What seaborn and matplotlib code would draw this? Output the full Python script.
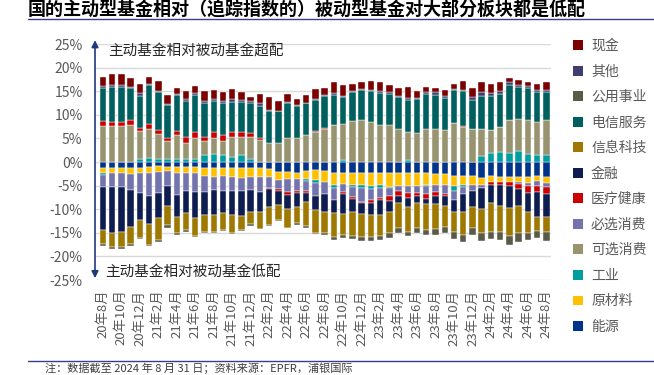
import numpy as np
import pandas as pd
import matplotlib
matplotlib.use("Agg")
import matplotlib.pyplot as plt
from matplotlib.patches import Patch
from matplotlib.lines import Line2D
import seaborn as sns

# monthly categories 2020-08 .. 2024-08
months = [f"{d.year % 100}年{d.month}月" for d in pd.date_range("2020-08-01", "2024-08-01", freq="MS")]

# active minus passive weight (%)
energy = [-1.3, -1.3, -1.3, -1.3, -1.3, -1.0, -0.9, -1.0, -1.0, -1.1,
          -1.1, -1.3, -1.3, -1.3, -1.3, -1.2, -1.3, -1.3, -1.4, -2.1,
          -2.1, -2.3, -1.9, -1.6, -1.9, -2.4, -2.4, -2.3, -2.4, -2.3,
          -2.3, -2.4, -2.4, -2.4, -2.4, -2.4, -2.6, -2.6, -3.0, -3.0,
          -2.9, -3.4, -3.0, -3.1, -3.1, -3.1, -3.1, -2.9, -3.1]
materials = [-1.0, -1.0, -1.0, -1.3, -1.1, -1.4, -1.2, -0.9, -1.4, -1.2,
             -1.2, -1.7, -1.8, -1.7, -1.9, -2.2, -1.9, -1.9, -1.7, -1.8,
             -1.4, -1.4, -1.8, -2.3, -2.3, -2.4, -2.2, -2.5, -2.4, -2.8,
             -2.6, -2.9, -2.6, -2.6, -2.6, -2.5, -2.2, -2.2, -2.1, -1.8,
             -1.9, -1.5, -1.3, -1.2, -1.2, -1.2, -1.3, -1.2, -1.3]
industrials = [-0.4, 0, 0, 0, 0.6, 0.9, 0.7, 0.6, 0.6, 0.6,
               0.6, 1.4, 1.6, 1.4, 1.0, 1.4, 0.7, 0, 0, 0,
               0, 0, -0.3, -0.5, 0, -0.8, 0.4, -0.5, -0.8, -0.6,
               -0.6, -0.2, 0, 0.5, 0, -0.2, 0, 0, -1.1, -0.6,
               0, 1.3, 1.9, 2.1, 2.0, 2.4, 1.8, 1.4, 1.4]
cons_disc = [7.7, 7.7, 7.7, 7.9, 6.0, 6.1, 5.2, 3.8, 5.1, 3.5,
             4.4, 3.1, 3.5, 3.1, 4.2, 4.0, 4.7, 4.7, 4.0, 4.1,
             5.0, 5.1, 5.8, 6.4, 6.9, 7.9, 7.7, 8.6, 9.0, 8.4,
             7.9, 7.9, 7.0, 5.9, 6.1, 6.9, 7.0, 6.8, 8.2, 7.4,
             6.9, 5.7, 4.9, 5.4, 7.0, 6.7, 7.0, 7.0, 7.4]
staples = [-2.6, -3.0, -3.1, -3.3, -4.2, -4.9, -4.5, -3.2, -4.5, -3.9,
           -4.1, -3.4, -2.9, -3.2, -3.0, -2.8, -2.7, -3.2, -2.4, -1.8,
           -2.9, -2.5, -2.2, -2.9, -2.6, -2.4, -1.8, -2.2, -2.8, -2.4,
           -2.1, -1.6, -1.2, -1.6, -1.6, -1.7, -1.6, -2.0, -1.8, -1.4,
           -1.3, -0.6, 0, 0, 0, -0.3, -0.7, -1.0, -1.0]
health = [0.9, 0.7, 0.7, 0.9, 0.5, 1.0, 0.9, 0.6, 0.9, 1.3,
          1.3, 0.9, 1.2, 1.3, 1.1, 1.0, 0.7, 0.4, -0.2, -0.5,
          -0.6, -0.4, -0.4, 0.2, 0.3, 0, -0.3, -0.4, -0.3, -0.6,
          -0.4, -1.1, -0.9, -1.0, -0.7, -1.0, -0.9, -0.3, 0, 0.3,
          0, 0, -0.5, -0.5, -0.8, -1.1, -1.5, -1.3, -1.3]
financials = [-9.1, -9.7, -9.5, -7.8, -5.7, -5.8, -5.3, -4.2, -4.7, -4.5,
              -5.5, -4.8, -5.2, -4.5, -5.0, -5.2, -4.6, -4.1, -3.9, -2.9,
              -2.9, -3.0, -1.9, -2.8, -3.7, -2.9, -4.3, -2.6, -2.3, -2.6,
              -3.2, -2.4, -1.6, -2.0, -1.4, -1.1, -1.6, -2.2, -2.5, -3.8,
              -3.5, -4.4, -3.9, -4.5, -4.7, -3.6, -4.0, -5.2, -4.9]
info_tech = [-2.9, -3.0, -3.1, -3.6, -3.9, -4.5, -4.7, -4.1, -3.5, -3.7,
             -3.7, -3.6, -3.6, -3.7, -3.8, -3.0, -2.6, -3.6, -3.8, -3.2,
             -4.0, -3.4, -5.0, -4.9, -4.5, -5.0, -4.5, -5.1, -4.9, -4.6,
             -4.5, -4.4, -5.2, -5.2, -5.3, -5.5, -5.2, -4.4, -4.4, -4.9,
             -4.3, -5.2, -6.1, -5.6, -5.8, -5.7, -4.5, -3.0, -3.2]
telecom = [7.0, 7.5, 7.5, 6.9, 6.9, 8.3, 8.1, 7.1, 7.5, 7.5,
           8.0, 7.1, 6.6, 6.6, 6.4, 6.3, 6.4, 6.8, 6.8, 6.6,
           7.5, 6.8, 6.6, 6.5, 6.8, 6.4, 5.7, 6.3, 6.2, 6.6,
           6.8, 6.6, 6.8, 6.7, 7.2, 7.5, 7.3, 6.8, 7.0, 7.3,
           6.2, 7.0, 7.1, 7.0, 7.3, 6.8, 6.8, 6.5, 6.1]
utilities = [-0.4, -0.4, -0.4, -0.4, -0.1, -0.3, -0.4, -0.5, -0.4, -0.4,
             -0.3, -0.2, -0.2, -0.3, -0.3, -0.3, -0.4, -0.1, -0.1, -0.2,
             -0.1, -0.4, -0.4, -0.3, -0.4, -0.7, -0.5, -0.7, -0.8, -0.8,
             -0.9, -1.0, -1.2, -0.9, -1.0, -1.1, -1.3, -1.3, -1.5, -1.4,
             -1.5, -1.6, -1.6, -1.7, -2.0, -1.9, -1.5, -1.5, -2.0]
other = [0.4, 0.5, 0.5, 0.2, 0.6, 0.2, 0.2, 0.2, 0.3, 0.4,
         0.3, 0.4, 0.5, 0.6, 0.6, 0.4, 0.4, 0.5, 0.3, 0.2,
         0.2, 0.2, 0.2, 0.3, 0.2, 0.4, 0.2, 0.2, 0.2, 0.2,
         0.4, 0.3, 0.2, 0.4, 0.3, 0.5, 0.5, 0.4, 0.2, 0.3,
         0.7, 0.8, 0.8, 0.6, 0.6, 0.4, 0.4, 0.4, 0.4]
cash = [2.1, 2.2, 2.2, 2.0, 2.0, 1.6, 2.1, 1.8, 1.3, 1.7,
        1.5, 2.1, 1.8, 1.9, 2.1, 1.8, 0.9, 2.1, 2.7, 2.0,
        1.8, 1.3, 1.5, 2.0, 1.5, 2.2, 2.4, 1.5, 1.6, 1.9,
        1.8, 1.5, 1.6, 2.4, 1.4, 0.9, 0.9, 1.2, 1.2, 1.9,
        1.9, 2.2, 1.8, 1.8, 1.0, 1.1, 1.0, 1.2, 1.7]

# stacking order (first = closest to zero)
series = [
    ("能源", energy, "#00338A"),
    ("原材料", materials, "#FFC000"),
    ("工业", industrials, "#009E9E"),
    ("可选消费", cons_disc, "#989470"),
    ("必选消费", staples, "#7373AD"),
    ("医疗健康", health, "#CC0000"),
    ("金融", financials, "#0D1D4F"),
    ("信息科技", info_tech, "#9E7800"),
    ("电信服务", telecom, "#006060"),
    ("公用事业", utilities, "#5A5A48"),
    ("其他", other, "#3F3F6F"),
    ("现金", cash, "#7B0000"),
]

sns.set_theme(style="white")
plt.rcParams["font.family"] = ["Noto Sans CJK SC", "DejaVu Sans"]
plt.rcParams["axes.unicode_minus"] = False

grey = "#595959"
navy = "#1F3A7A"

fig = plt.figure(figsize=(6.54, 3.75), dpi=100)
ax = fig.add_axes([95 / 654, 1 - 280 / 375, 456 / 654, 236 / 375])

pos = np.zeros(len(months))
neg = np.zeros(len(months))
for name, vals, color in series:
    v = np.array(vals, dtype=float)
    bottom = np.where(v >= 0, pos, neg)
    df = pd.DataFrame({"month": months, "value": v})
    sns.barplot(data=df, x="month", y="value", color=color, bottom=bottom,
                width=0.7, errorbar=None, saturation=1, ax=ax,
                edgecolor="white", linewidth=0.3)
    pos = pos + np.where(v > 0, v, 0)
    neg = neg + np.where(v < 0, v, 0)

ax.set_xlim(-0.85, 48.5)
ax.set_ylim(-25, 25)
ax.set_yticks(np.arange(-25, 26, 5))
ax.set_yticklabels([f"{t}%" for t in range(-25, 26, 5)], fontsize=10, color=grey)
ax.set_xticks(range(0, len(months), 2))
ax.set_xticklabels(months[::2], rotation=90, fontsize=9.5, color=grey)
ax.tick_params(axis="y", pad=9, length=0)
ax.tick_params(axis="x", pad=7, length=0)
ax.set_xlabel("")
ax.set_ylabel("")
ax.grid(axis="y", color="#d9d9d9", linewidth=1)
ax.set_axisbelow(True)
for s in ax.spines.values():
    s.set_visible(False)

# double arrow on the left
ax.annotate("", xy=(0, 26.4), xytext=(0, -25.2),
            xycoords=("axes fraction", "data"), textcoords=("axes fraction", "data"),
            arrowprops=dict(arrowstyle="<|-|>", color=navy, lw=1.2, mutation_scale=10),
            annotation_clip=False)
ax.text(0.6, 23.5, "主动基金相对被动基金超配", fontsize=10.5, color="#262626", va="center")
ax.text(0.3, -23.2, "主动基金相对被动基金低配", fontsize=10.5, color="#262626", va="center")

# legend, top entry = last stacked series
handles = [Patch(facecolor=c, edgecolor="none", label=n) for n, _, c in series[::-1]]
leg = fig.legend(handles=handles, loc="upper left", bbox_to_anchor=(573 / 654, 1 - 39 / 375),
                 frameon=False, fontsize=10, handlelength=0.7, handleheight=0.7,
                 handletextpad=0.6, labelspacing=0.83, borderpad=0, borderaxespad=0)
for t in leg.get_texts():
    t.set_color(grey)

# title, rules and footnote
fig.text(28 / 654, 1 - 9 / 375, "国的主动型基金相对（追踪指数的）被动型基金对大部分板块都是低配",
         fontsize=13, fontweight="bold", va="center", color="black")
fig.add_artist(Line2D([28 / 654, 1], [1 - 18.5 / 375] * 2, color="#3C3C8C", lw=1))
fig.add_artist(Line2D([28 / 654, 1], [1 - 361 / 375] * 2, color="#3C3C8C", lw=1))
fig.text(45 / 654, 1 - 368.5 / 375, "注：数据截至 2024 年 8 月 31 日；资料来源：EPFR，浦银国际",
         fontsize=8, va="center", color="#404040")

fig.savefig("out.png", dpi=100)
